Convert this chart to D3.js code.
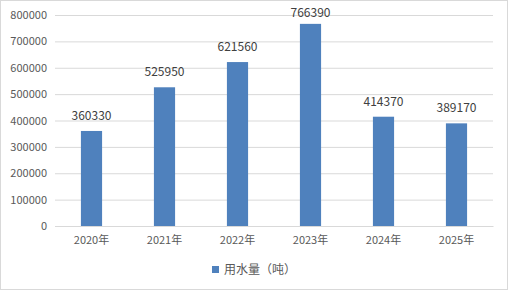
<!DOCTYPE html>
<html>
<head>
<meta charset="utf-8">
<script src="https://cdn.jsdelivr.net/npm/d3@7"></script>
<style>
  body { margin: 0; background: #fff; }
  text { font-family: "Noto Sans CJK SC", "Noto Sans", sans-serif; }
</style>
</head>
<body>
<div id="chart"></div>
<script>
// 数据
var years = ['2020年', '2021年', '2022年', '2023年', '2024年', '2025年'];
var water = [360330, 525950, 621560, 766390, 414370, 389170];
var yTicks = [0, 100000, 200000, 300000, 400000, 500000, 600000, 700000, 800000];
var seriesName = '用水量（吨）';

var width = 508;
var height = 290;
var plot = { left: 55, right: 493, top: 15, bottom: 226 };

var svg = d3.select('#chart')
    .append('svg')
    .attr('width', width)
    .attr('height', height);

// 外框
svg.append('rect')
    .attr('x', 0.5).attr('y', 0.5)
    .attr('width', width - 1).attr('height', height - 1)
    .attr('fill', '#fff')
    .attr('stroke', '#d9d9d9');

var x = d3.scaleBand()
    .domain(years)
    .range([plot.left, plot.right])
    .paddingInner(0.71)
    .paddingOuter(0.355);

var y = d3.scaleLinear()
    .domain([0, 800000])
    .range([plot.bottom, plot.top]);

// 网格线
var yAxis = d3.axisLeft(y)
    .tickValues(yTicks)
    .tickSize(-(plot.right - plot.left))
    .tickPadding(8)
    .tickFormat(d3.format('d'));

var gy = svg.append('g')
    .attr('transform', 'translate(' + plot.left + ',0)')
    .call(yAxis);
gy.select('.domain').remove();
gy.selectAll('line').attr('stroke', '#d9d9d9');
gy.selectAll('text')
    .attr('fill', '#595959')
    .style('font-size', '11px');

// 柱子
svg.selectAll('rect.bar')
    .data(water).enter()
    .append('rect')
    .attr('class', 'bar')
    .attr('x', function (d, i) { return x(years[i]); })
    .attr('y', function (d) { return y(d); })
    .attr('width', x.bandwidth())
    .attr('height', function (d) { return y(0) - y(d); })
    .attr('fill', '#4f81bd');

// x轴
var xAxis = d3.axisBottom(x).tickSize(0).tickPadding(10);
var gx = svg.append('g')
    .attr('transform', 'translate(0,' + plot.bottom + ')')
    .call(xAxis);
gx.select('.domain').attr('stroke', '#d9d9d9');
gx.selectAll('text')
    .attr('fill', '#595959')
    .style('font-size', '11px');

// 数据标签
svg.selectAll('text.label')
    .data(water).enter()
    .append('text')
    .attr('class', 'label')
    .attr('x', function (d, i) { return x(years[i]) + x.bandwidth() / 2; })
    .attr('y', function (d) { return Math.max(y(d) - 11, 17); })
    .attr('text-anchor', 'middle')
    .attr('fill', '#404040')
    .style('font-size', '12px')
    .text(function (d) { return d; });

// 图例
var legend = svg.append('g').attr('transform', 'translate(212,266)');
legend.append('rect')
    .attr('width', 7).attr('height', 7)
    .attr('fill', '#4f81bd');
legend.append('text')
    .attr('x', 12).attr('y', 3.5)
    .attr('dy', '0.35em')
    .attr('fill', '#595959')
    .style('font-size', '12px')
    .text(seriesName);
</script>
</body>
</html>
